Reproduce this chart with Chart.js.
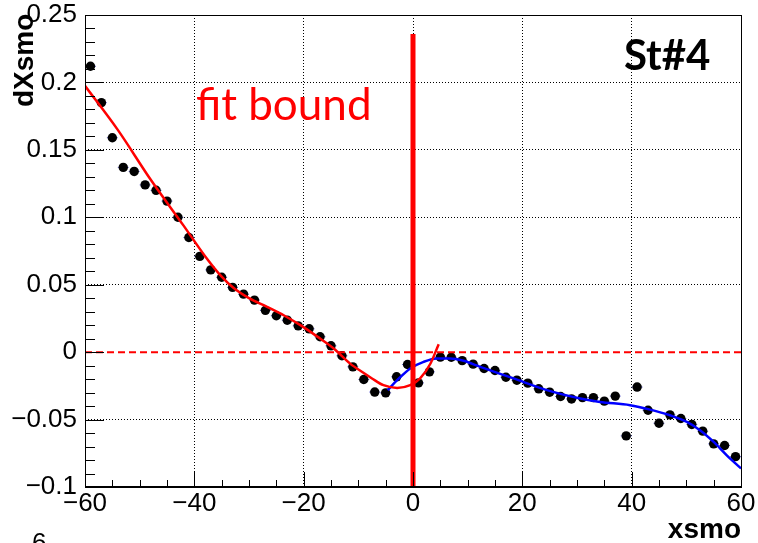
<!DOCTYPE html>
<html>
<head>
<meta charset="utf-8">
<script src="https://cdn.jsdelivr.net/npm/chart.js@4.4.0/dist/chart.umd.min.js"></script>
<style>
  html, body { margin: 0; padding: 0; background: #fff; }
  canvas { display: block; }
</style>
</head>
<body>
<canvas id="c" width="758" height="543"></canvas>
<script>
// bin centres (bin width 2) and measured dXsmo per bin
const xBins = [-59, -57, -55, -53, -51, -49, -47, -45, -43, -41, -39, -37, -35, -33, -31,
  -29, -27, -25, -23, -21, -19, -17, -15, -13, -11, -9, -7, -5, -3, -1,
  1, 3, 5, 7, 9, 11, 13, 15, 17, 19, 21, 23, 25, 27, 29,
  31, 33, 35, 37, 39, 41, 43, 45, 47, 49, 51, 53, 55, 57, 59]
const dXsmo = [0.212, 0.185, 0.159, 0.137, 0.134, 0.124, 0.120, 0.112, 0.100, 0.085, 0.071, 0.061, 0.0555, 0.048, 0.043,
  0.0386, 0.031, 0.027, 0.0237, 0.0195, 0.0173, 0.0114, 0.0047, -0.0027, -0.0109, -0.0203, -0.0296, -0.0302, -0.0183, -0.0092,
  -0.0228, -0.0146, -0.0037, -0.0038, -0.0063, -0.0089, -0.0121, -0.0136, -0.0186, -0.0208, -0.0230, -0.0272, -0.0297, -0.0329, -0.0347,
  -0.0337, -0.0337, -0.0363, -0.0326, -0.0621, -0.0259, -0.0431, -0.0527, -0.0465, -0.0492, -0.0536, -0.0586, -0.0680, -0.0692, -0.0775]
const binHalfWidth = 1

// fit curves
const redFitX = [-60, -54, -48, -42, -38, -35, -32.8, -30, -26.7, -23.5, -20.6, -17.5, -14.5, -11.5, -9, -7.5, -5.4, -2.9, -0.5, 1.3, 3.2, 4.7]
const redFitY = [0.1975, 0.1648, 0.128, 0.094, 0.071, 0.056, 0.0475, 0.040, 0.0336, 0.027, 0.020, 0.0115, 0.0027, -0.0085, -0.0155, -0.0195, -0.0245, -0.0265, -0.0245, -0.0195, -0.0084, 0.0059]
const blueFitX = [-4.65, -2.9, -0.5, 1.94, 4.4, 6.8, 9.25, 12.3, 18.4, 24.5, 30.6, 34.2, 39.7, 43.4, 47.0, 50.1, 52.5, 55, 57.4, 60]
const blueFitY = [-0.0282, -0.0208, -0.0121, -0.0072, -0.0047, -0.0047, -0.0064, -0.0109, -0.0195, -0.0282, -0.0344, -0.0369, -0.0393, -0.0426, -0.0468, -0.0517, -0.0579, -0.0666, -0.0765, -0.0862]

// fit boundary marker and zero line
const boundX = 0
const boundTop = 0.236
const zeroLevel = 0

const xTickLabels = { '-60': '−60', '-40': '−40', '-20': '−20', '0': '0', '20': '20', '40': '40', '60': '60' }

const zip = (xs, ys) => xs.map((x, i) => ({ x: x, y: ys[i] }))

const rootFrame = {
  id: 'rootFrame',
  beforeDatasetsDraw(chart) {
    const ctx = chart.ctx
    const xs = chart.scales.x, ys = chart.scales.y
    ctx.save()
    ctx.strokeStyle = '#6b6bd6'
    ctx.lineWidth = 1
    ctx.beginPath()
    xBins.forEach((x, i) => {
      const py = ys.getPixelForValue(dXsmo[i])
      ctx.moveTo(xs.getPixelForValue(x - binHalfWidth), py)
      ctx.lineTo(xs.getPixelForValue(x + binHalfWidth), py)
    })
    ctx.stroke()
    ctx.restore()
  },
  afterDatasetsDraw(chart) {
    const ctx = chart.ctx
    const a = chart.chartArea
    const xs = chart.scales.x, ys = chart.scales.y
    ctx.save()
    ctx.strokeStyle = '#000'
    ctx.lineWidth = 1
    ctx.beginPath()
    for (let i = -10; i <= 25; i++) {
      const py = Math.round(ys.getPixelForValue(i / 100)) + 0.5
      const len = (i % 5 === 0) ? 19 : 10
      ctx.moveTo(a.left, py)
      ctx.lineTo(a.left + len, py)
    }
    for (let i = -60; i <= 60; i += 5) {
      const px = Math.round(xs.getPixelForValue(i)) + 0.5
      const len = (i % 20 === 0) ? 15 : 7
      ctx.moveTo(px, a.bottom)
      ctx.lineTo(px, a.bottom - len)
    }
    ctx.stroke()
    ctx.strokeRect(Math.round(a.left) + 0.5, Math.round(a.top) + 0.5, Math.round(a.right - a.left), Math.round(a.bottom - a.top))
    ctx.lineWidth = 2
    ctx.beginPath()
    ctx.moveTo(a.left, Math.round(a.bottom))
    ctx.lineTo(a.right + 1, Math.round(a.bottom))
    ctx.stroke()
    ctx.restore()
  },
  afterDraw(chart) {
    const ctx = chart.ctx
    ctx.save()
    ctx.fillStyle = '#ff0000'
    ctx.font = '44px Lato'
    ctx.textBaseline = 'alphabetic'
    ctx.fillText('fit bound', 196, 120)
    ctx.fillStyle = '#000'
    ctx.font = 'bold 42px Lato'
    ctx.fillText('St#4', 624, 70)
    ctx.font = 'bold 28px "Liberation Sans"'
    ctx.textAlign = 'right'
    ctx.fillText('xsmo', 741, 538)
    ctx.font = '26px "Liberation Sans"'
    ctx.textAlign = 'left'
    ctx.fillText('6', 32, 551)
    ctx.translate(33, 107)
    ctx.rotate(-Math.PI / 2)
    ctx.font = 'bold 28px "Liberation Sans"'
    ctx.fillText('dXsmo', 0, 0)
    ctx.restore()
  }
}

new Chart(document.getElementById('c'), {
  type: 'scatter',
  data: {
    datasets: [
      {
        label: 'bound',
        type: 'line',
        data: [{ x: boundX, y: -0.1 }, { x: boundX, y: boundTop }],
        borderColor: '#ff0000',
        borderWidth: 5,
        pointRadius: 0,
        order: 0
      },
      {
        label: 'fit left',
        type: 'line',
        data: zip(redFitX, redFitY),
        borderColor: '#ff0000',
        borderWidth: 2.5,
        pointRadius: 0,
        cubicInterpolationMode: 'monotone',
        order: 1
      },
      {
        label: 'fit right',
        type: 'line',
        data: zip(blueFitX, blueFitY),
        borderColor: '#0000ff',
        borderWidth: 2.5,
        pointRadius: 0,
        cubicInterpolationMode: 'monotone',
        order: 1
      },
      {
        label: 'zero',
        type: 'line',
        data: [{ x: -60, y: zeroLevel }, { x: 60, y: zeroLevel }],
        borderColor: '#ff0000',
        borderWidth: 2,
        borderDash: [7, 4],
        pointRadius: 0,
        order: 2
      },
      {
        label: 'dXsmo',
        data: zip(xBins, dXsmo),
        backgroundColor: '#000',
        borderWidth: 0,
        pointRadius: 4.7,
        order: 3
      }
    ]
  },
  options: {
    responsive: false,
    animation: false,
    layout: { padding: { left: 0, top: 15, right: 17, bottom: 0 } },
    plugins: { legend: { display: false }, tooltip: { enabled: false } },
    scales: {
      x: {
        type: 'linear',
        min: -60,
        max: 60,
        afterFit: (s) => { s.height = 56; s.paddingLeft = 0; s.paddingRight = 0 },
        ticks: {
          stepSize: 20,
          padding: 1,
          color: '#000',
          font: { family: 'Liberation Sans', size: 26 },
          maxRotation: 0,
          callback: (v) => xTickLabels[String(v)] ?? ''
        },
        grid: { color: '#000', lineWidth: 1, drawTicks: false },
        border: { display: false, dash: [1, 2] }
      },
      y: {
        min: -0.1,
        max: 0.25,
        afterFit: (s) => { s.width = 85; s.paddingTop = 0; s.paddingBottom = 0 },
        ticks: {
          stepSize: 0.05,
          padding: 8,
          color: '#000',
          font: { family: 'Liberation Sans', size: 26 },
          callback: (v) => {
            const r = Math.round(v * 100) / 100
            if (r === 0) return '0'
            return (r < 0 ? '−' : '') + String(Math.abs(r))
          }
        },
        grid: {
          color: (c) => (c.tick && Math.abs(c.tick.value) < 1e-9) ? 'rgba(0,0,0,0)' : '#000',
          lineWidth: 1,
          drawTicks: false
        },
        border: { display: false, dash: [1, 2] }
      }
    }
  },
  plugins: [rootFrame]
})
</script>
</body>
</html>
